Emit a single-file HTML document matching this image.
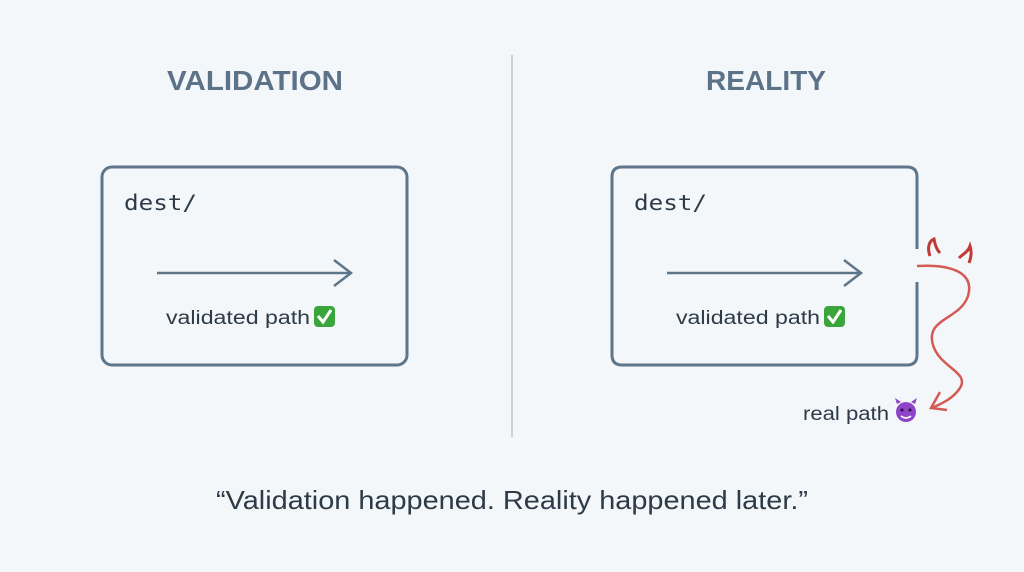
<!DOCTYPE html>
<html><head><style>
html,body{margin:0;padding:0;background:#f4f7f9;}
svg{display:block}
</style></head><body>
<svg width="1024" height="572" viewBox="0 0 1024 572" xmlns="http://www.w3.org/2000/svg">
<rect width="1024" height="572" fill="#f4f7f9"/>
<g font-family="Liberation Sans, sans-serif">
<text x="255" y="90" text-anchor="middle" font-size="28" font-weight="bold" fill="#5b7288" textLength="176" lengthAdjust="spacingAndGlyphs">VALIDATION</text>
<text x="766" y="90" text-anchor="middle" font-size="28" font-weight="bold" fill="#5b7288" textLength="120" lengthAdjust="spacingAndGlyphs">REALITY</text>
</g>
<line x1="512" y1="55" x2="512" y2="437" stroke="#c9d1d9" stroke-width="2"/>
<!-- left box -->
<rect x="102" y="167" width="305" height="198" rx="10" fill="none" stroke="#5e7689" stroke-width="3"/>
<text x="124" y="210" font-family="DejaVu Sans Mono, monospace" font-size="21" fill="#2d3a48" textLength="73" lengthAdjust="spacingAndGlyphs">dest/</text>
<line x1="157" y1="273" x2="351" y2="273" stroke="#5e7689" stroke-width="2.5"/>
<polyline points="334,260 351,273 334,286" fill="none" stroke="#5e7689" stroke-width="2.5"/>
<text x="166" y="324" font-family="Liberation Sans, sans-serif" font-size="19" fill="#2d3a48" textLength="144" lengthAdjust="spacingAndGlyphs">validated path</text>
<rect x="314" y="306" width="21" height="21" rx="4" fill="#3aa53a"/>
<polyline points="318,316 323,322 331,310" fill="none" stroke="#fff" stroke-width="3"/>
<!-- right box -->
<path d="M917 249 V177 Q917 167 907 167 H622 Q612 167 612 177 V355 Q612 365 622 365 H907 Q917 365 917 355 V282" fill="none" stroke="#5e7689" stroke-width="3"/>
<text x="634" y="210" font-family="DejaVu Sans Mono, monospace" font-size="21" fill="#2d3a48" textLength="73" lengthAdjust="spacingAndGlyphs">dest/</text>
<line x1="667" y1="273" x2="861" y2="273" stroke="#5e7689" stroke-width="2.5"/>
<polyline points="844,260 861,273 844,286" fill="none" stroke="#5e7689" stroke-width="2.5"/>
<text x="676" y="324" font-family="Liberation Sans, sans-serif" font-size="19" fill="#2d3a48" textLength="144" lengthAdjust="spacingAndGlyphs">validated path</text>
<rect x="824" y="306" width="21" height="21" rx="4" fill="#3aa53a"/>
<polyline points="828,316 833,322 841,310" fill="none" stroke="#fff" stroke-width="3"/>
<!-- red path -->
<path d="M917 266 C950 264 975 272 968 296 C960 320 925 318 933 345 C940 368 970 372 960 388 C952 400 940 404 932 408" fill="none" stroke="#d35a55" stroke-width="2.5"/>
<polyline points="940,392 931,408 947,410" fill="none" stroke="#d35a55" stroke-width="2.5"/>
<path d="M930 256 C927 248 929 241 934 239 C935 245 937 250 940 253" fill="none" stroke="#c13a35" stroke-width="3"/>
<path d="M959 258 C963 254 968 252 970 246 C972 252 971 258 969 263" fill="none" stroke="#c13a35" stroke-width="3"/>
<text x="803" y="420" font-family="Liberation Sans, sans-serif" font-size="19" fill="#2d3a48" textLength="86" lengthAdjust="spacingAndGlyphs">real path</text>
<circle cx="906" cy="412" r="10" fill="#8e44c8"/>
<path d="M897 404 L895 398 L901 402 Z M915 404 L917 398 L911 402 Z" fill="#8e44c8"/>
<path d="M901 416 Q906 420 911 416" fill="none" stroke="#fff" stroke-width="1.5"/>
<circle cx="902" cy="410" r="1.5" fill="#2a1040"/><circle cx="910" cy="410" r="1.5" fill="#2a1040"/>
<text x="512" y="509" text-anchor="middle" font-family="Liberation Sans, sans-serif" font-size="26" fill="#2d3a48" textLength="592" lengthAdjust="spacingAndGlyphs">“Validation happened. Reality happened later.”</text>
</svg>
</body></html>
